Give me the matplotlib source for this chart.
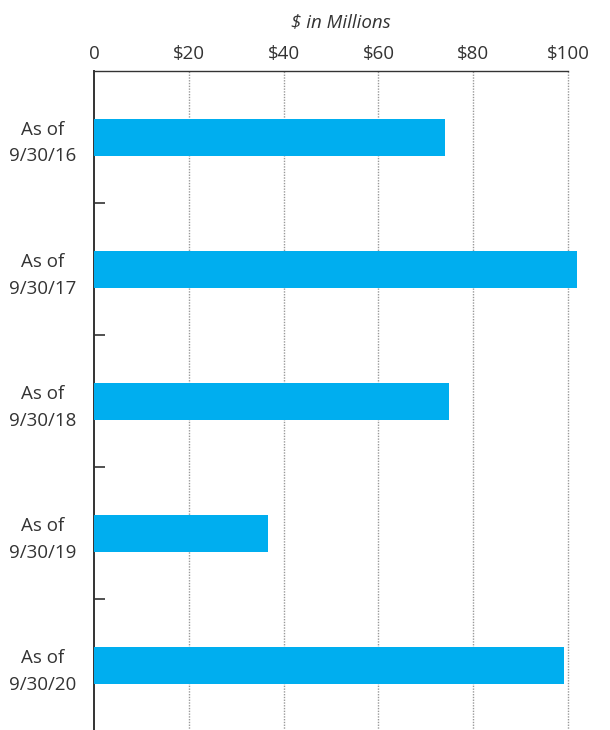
import matplotlib.pyplot as plt
import numpy as np

# values
labels = ["As of\n9/30/16", "As of\n9/30/17", "As of\n9/30/18", "As of\n9/30/19", "As of\n9/30/20"]
values = [74.1, 101.9, 74.9, 36.7, 99.2]
ticks = [0, 20, 40, 60, 80, 100]
tick_labels = ["0", "$20", "$40", "$60", "$80", "$100"]

plt.rcParams['font.family'] = ['Open Sans', 'DejaVu Sans']
text_color = "#333333"

fig = plt.figure(figsize=(6.1, 7.3), dpi=100)
ax = fig.add_axes([94 / 610, -0.002, 493 / 610, 1 - 71 / 730 + 0.002])

y = np.arange(len(labels))
ax.barh(y, values, height=0.28, color="#00AEEF", zorder=3)

ax.set_xlim(0, 104)
ax.set_ylim(len(labels) - 0.5, -0.5)

# x axis on top
ax.xaxis.tick_top()
ax.set_xticks(ticks)
ax.set_xticklabels(tick_labels, fontsize=13.5, color=text_color)
ax.tick_params(axis="x", length=0, pad=5.5)
ax.set_xlabel("$ in Millions", fontsize=13.5, style="italic", color=text_color, labelpad=13)
ax.xaxis.set_label_position("top")

# y axis: labels centred on bars, small inward ticks between categories
ax.set_yticks(y)
ax.set_yticklabels(labels, fontsize=13.5, color=text_color, ma="center", linespacing=1.6)
ax.tick_params(axis="y", which="major", length=0, pad=13)
ax.set_yticks(np.arange(0.5, len(labels) - 0.5, 1), minor=True)
ax.tick_params(axis="y", which="minor", direction="in", length=8, width=1.2, color=text_color)

# dotted gridlines
for v in ticks[1:]:
    ax.axvline(v, color="#999999", linestyle=(0, (1, 1)), linewidth=1, zorder=1)

for side in ["right", "bottom"]:
    ax.spines[side].set_visible(False)
ax.spines["top"].set_bounds(0, 100)
ax.spines["top"].set_color(text_color)
ax.spines["top"].set_linewidth(1)
ax.spines["left"].set_color(text_color)
ax.spines["left"].set_linewidth(1.4)

fig.savefig("out.png", dpi=100)
